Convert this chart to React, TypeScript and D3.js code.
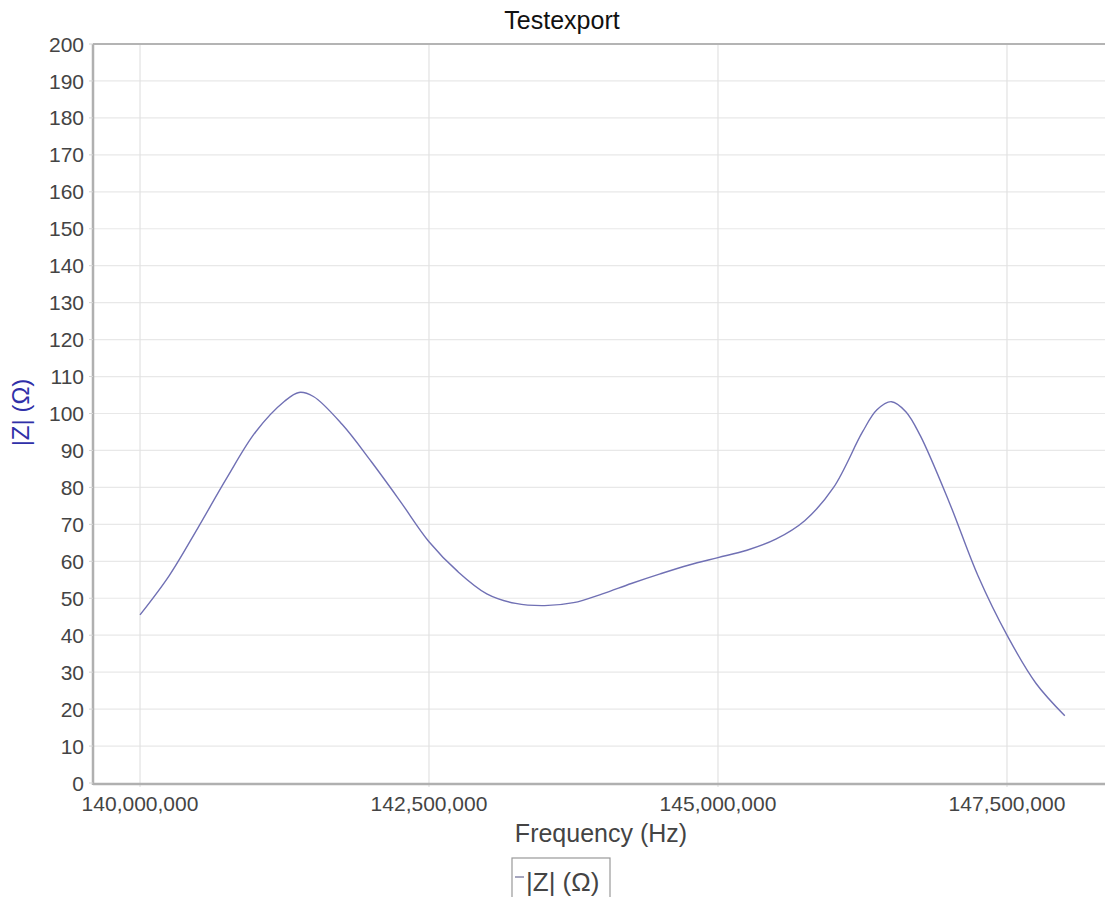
import { useEffect, useRef } from 'react';
import * as d3 from 'd3';

// frequency (Hz) samples and |Z| (Ohm)
const frequencies = [
  140.0e6, 140.25e6, 140.5e6, 140.75e6, 141.0e6, 141.25e6, 141.375e6, 141.5e6,
  141.75e6, 142.0e6, 142.25e6, 142.5e6, 142.75e6, 143.0e6, 143.25e6, 143.5e6,
  143.75e6, 144.0e6, 144.25e6, 144.5e6, 144.75e6, 145.0e6, 145.25e6, 145.5e6,
  145.75e6, 146.0e6, 146.25e6, 146.375e6, 146.5e6, 146.625e6, 146.75e6,
  147.0e6, 147.25e6, 147.5e6, 147.75e6, 148.0e6,
];
const impedance = [
  45.5, 56, 69, 82.5, 95, 103.3, 105.7, 104.6,
  97, 87, 76.3, 65.3, 57.2, 51.2, 48.6, 48,
  48.8, 51.2, 54, 56.6, 59, 61, 63, 66,
  71, 80, 95, 101, 103.2, 100.5, 94,
  76, 56, 40, 27, 18.2,
];

const yTicks = d3.range(0, 201, 10);
const xTicks = [140000000, 142500000, 145000000, 147500000];

const chartTitle = 'Testexport';
const xLabel = 'Frequency (Hz)';
const yLabel = '|Z| (Ω)';
const seriesName = '|Z| (Ω)';

const App = () => {
  const svgRef = useRef<SVGSVGElement>(null);

  useEffect(() => {
    const width = 1105;
    const height = 897;
    const left = 93;
    const top = 44;
    const bottom = 783;
    const right = 1105;
    const font = 'Arial, "Liberation Sans", sans-serif';

    const svg = d3.select(svgRef.current)
      .attr('width', width)
      .attr('height', height);
    svg.selectAll('*').remove();

    const x = d3.scaleLinear().domain([139.5934e6, 148.3478e6]).range([left, right]);
    const y = d3.scaleLinear().domain([0, 200]).range([bottom, top]);

    svg.append('rect').attr('width', width).attr('height', height).attr('fill', '#fff');

    // grid
    svg.append('g').selectAll('line')
      .data(yTicks.slice(1))
      .enter().append('line')
      .attr('x1', left).attr('x2', right)
      .attr('y1', d => y(d)).attr('y2', d => y(d))
      .attr('stroke', '#e8e8e8').attr('stroke-width', 1.2);

    svg.append('g').selectAll('line')
      .data(xTicks)
      .enter().append('line')
      .attr('x1', d => x(d)).attr('x2', d => x(d))
      .attr('y1', top).attr('y2', bottom + 4)
      .attr('stroke', '#e2e2e2').attr('stroke-width', 1.2);

    // axis lines / border
    svg.append('line').attr('x1', left).attr('x2', right).attr('y1', top).attr('y2', top)
      .attr('stroke', '#b4b4b4').attr('stroke-width', 2);
    svg.append('line').attr('x1', left).attr('x2', left).attr('y1', top).attr('y2', bottom + 2)
      .attr('stroke', '#b0b0b0').attr('stroke-width', 2.5);
    svg.append('line').attr('x1', left).attr('x2', right).attr('y1', bottom + 1).attr('y2', bottom + 1)
      .attr('stroke', '#b0b0b0').attr('stroke-width', 2.5);

    // y ticks + labels
    const yg = svg.append('g');
    yg.selectAll('line')
      .data(yTicks)
      .enter().append('line')
      .attr('x1', left - 4).attr('x2', left)
      .attr('y1', d => y(d)).attr('y2', d => y(d))
      .attr('stroke', '#d4d4d4');
    yg.selectAll('text')
      .data(yTicks)
      .enter().append('text')
      .attr('x', left - 9)
      .attr('y', d => y(d))
      .attr('dy', '0.36em')
      .attr('text-anchor', 'end')
      .attr('font-family', font)
      .attr('font-size', 21)
      .attr('fill', '#444')
      .text(d => d);

    // x labels
    svg.append('g').selectAll('text')
      .data(xTicks)
      .enter().append('text')
      .attr('x', d => x(d))
      .attr('y', bottom + 28)
      .attr('text-anchor', 'middle')
      .attr('font-family', font)
      .attr('font-size', 21)
      .attr('fill', '#444')
      .text(d => d3.format(',')(d));

    // line
    const points: [number, number][] = frequencies.map((f, i) => [f, impedance[i]]);
    const line = d3.line<[number, number]>()
      .x(d => x(d[0]))
      .y(d => y(d[1]))
      .curve(d3.curveCatmullRom.alpha(0.5));
    svg.append('path')
      .datum(points)
      .attr('d', line)
      .attr('fill', 'none')
      .attr('stroke', '#7070b4')
      .attr('stroke-width', 1.4);

    // titles
    svg.append('text')
      .attr('x', 562).attr('y', 29)
      .attr('text-anchor', 'middle')
      .attr('font-family', font).attr('font-size', 25)
      .attr('fill', '#111')
      .text(chartTitle);

    svg.append('text')
      .attr('x', 601).attr('y', 842)
      .attr('text-anchor', 'middle')
      .attr('font-family', font).attr('font-size', 25)
      .attr('fill', '#444')
      .text(xLabel);

    svg.append('text')
      .attr('transform', `translate(29,${(top + bottom) / 2 - 1}) rotate(-90)`)
      .attr('text-anchor', 'middle')
      .attr('font-family', font).attr('font-size', 24)
      .attr('fill', '#3030a8')
      .text(yLabel);

    // legend
    const lg = svg.append('g');
    lg.append('rect')
      .attr('x', 512).attr('y', 858)
      .attr('width', 98).attr('height', 50)
      .attr('fill', '#fff')
      .attr('stroke', '#999').attr('stroke-width', 1.2);
    lg.append('line')
      .attr('x1', 515).attr('x2', 524).attr('y1', 877).attr('y2', 877)
      .attr('stroke', '#8888a8').attr('stroke-width', 1.5);
    lg.append('text')
      .attr('x', 526).attr('y', 891)
      .attr('font-family', font).attr('font-size', 26)
      .attr('fill', '#444')
      .text(seriesName);
  }, []);

  return (
    <div style={{ position: 'absolute', left: 0, top: 0 }}>
      <svg ref={svgRef}></svg>
    </div>
  );
};

export default App;
